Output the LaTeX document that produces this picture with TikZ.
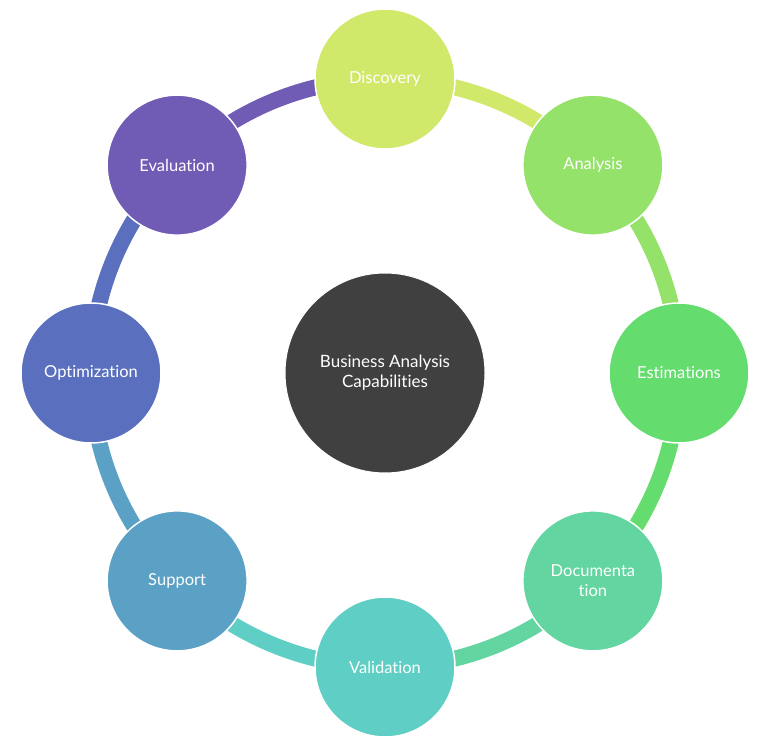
\documentclass[tikz,border=0pt]{standalone}
\usepackage{fontspec}
\setmainfont[Ligatures={NoCommon}]{Lato}
\definecolor{cDisc}{HTML}{D0E96B}
\definecolor{cAna}{HTML}{95E26B}
\definecolor{cEst}{HTML}{64DD6E}
\definecolor{cDoc}{HTML}{62D5A0}
\definecolor{cVal}{HTML}{5FCFC5}
\definecolor{cSup}{HTML}{5BA0C5}
\definecolor{cOpt}{HTML}{5A70BF}
\definecolor{cEva}{HTML}{705BB5}
\definecolor{cCen}{HTML}{404040}
\tikzset{
  stage/.style={circle, minimum size=140pt, inner sep=0pt, draw=white, line width=1.5pt, text=white, font=\fontsize{16.5}{20}\selectfont, align=center},
  hub/.style={circle, minimum size=200pt, inner sep=0pt, fill=cCen, draw=white, line width=1pt, text=white, font=\fontsize{17}{20}\selectfont, align=center},
  ring/.style={line width=16pt}
}
\begin{document}
\begin{tikzpicture}[x=1pt,y=1pt]
\useasboundingbox (0,0) rectangle (768,745);
\coordinate (c) at (385,372);
\path (c) ++(90:294) coordinate (pDisc);
\path (c) ++(45:294) coordinate (pAna);
\path (c) ++(0:294) coordinate (pEst);
\path (c) ++(-45:294) coordinate (pDoc);
\path (c) ++(-90:294) coordinate (pVal);
\path (c) ++(-135:294) coordinate (pSup);
\path (c) ++(180:294) coordinate (pOpt);
\path (c) ++(135:294) coordinate (pEva);
% ring segments
\draw[ring, cDisc] (pDisc) arc[start angle=90, end angle=45, radius=294];
\draw[ring, cAna] (pAna) arc[start angle=45, end angle=0, radius=294];
\draw[ring, cEst] (pEst) arc[start angle=0, end angle=-45, radius=294];
\draw[ring, cDoc] (pDoc) arc[start angle=-45, end angle=-90, radius=294];
\draw[ring, cVal] (pVal) arc[start angle=-90, end angle=-135, radius=294];
\draw[ring, cSup] (pSup) arc[start angle=-135, end angle=-180, radius=294];
\draw[ring, cOpt] (pOpt) arc[start angle=180, end angle=135, radius=294];
\draw[ring, cEva] (pEva) arc[start angle=135, end angle=90, radius=294];
% nodes
\node[hub] (hub) at (c) {Business Analysis\\Capabilities};
\node[stage, fill=cDisc] (disc) at (pDisc) {Discovery};
\node[stage, fill=cAna] (ana) at (pAna) {Analysis};
\node[stage, fill=cEst] (est) at (pEst) {Estimations};
\node[stage, fill=cDoc] (doc) at (pDoc) {Documenta\\tion};
\node[stage, fill=cVal] (val) at (pVal) {Validation};
\node[stage, fill=cSup] (sup) at (pSup) {Support};
\node[stage, fill=cOpt] (opt) at (pOpt) {Optimization};
\node[stage, fill=cEva] (eva) at (pEva) {Evaluation};
\end{tikzpicture}
\end{document}
